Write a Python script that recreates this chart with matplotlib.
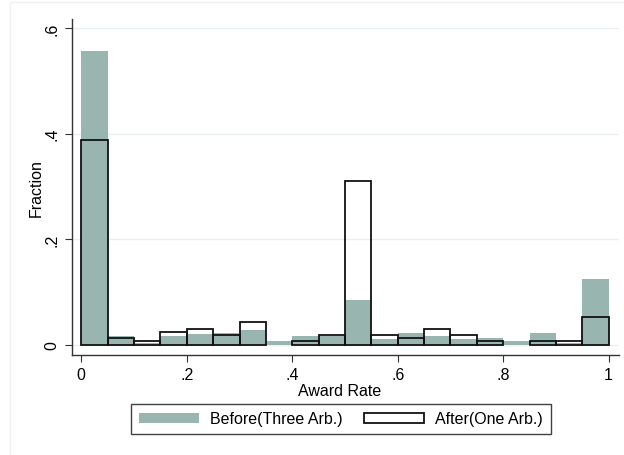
import matplotlib
matplotlib.use("Agg")
import matplotlib.pyplot as plt
import numpy as np
from matplotlib.patches import Rectangle

plt.rcParams['font.family'] = ['Liberation Sans', 'DejaVu Sans']

# award-rate histogram, 20 bins of width .05
bin_edges = np.linspace(0, 1, 21)
before_frac = [0.556, 0.0165, 0.004, 0.0165, 0.0208, 0.0222, 0.0273, 0.007, 0.0165, 0.016,
               0.084, 0.0114, 0.0222, 0.0165, 0.0114, 0.012, 0.007, 0.0222, 0.004, 0.125]
after_frac = [0.387, 0.012, 0.0064, 0.0246, 0.0297, 0.0178, 0.0424, 0.0, 0.0064, 0.0178,
              0.3095, 0.0178, 0.0121, 0.0303, 0.0178, 0.0064, 0.0, 0.0064, 0.0064, 0.053]
xticks = [0, 0.2, 0.4, 0.6, 0.8, 1]
xtick_labels = ['0', '.2', '.4', '.6', '.8', '1']
yticks = [0, 0.2, 0.4, 0.6]
ytick_labels = ['0', '.2', '.4', '.6']

fill_col = '#98b6af'
grid_col = '#eaf0f1'
fs = 11.5

fig = plt.figure(figsize=(6.24, 4.56), dpi=100)
# faint outer graph-region border
fig.patches.append(Rectangle((10 / 624, -0.1), 1.2, 1 - 3 / 456 + 0.1, transform=fig.transFigure,
                             fill=False, edgecolor='#eef2f2', linewidth=1))

ax = fig.add_axes([71.7 / 624, 1 - 355.7 / 456, 547 / 624, 335.7 / 456])

left = bin_edges[:-1]
w = bin_edges[1] - bin_edges[0]
before = np.array(before_frac)
after = np.array(after_frac)

ax.bar(left, before, width=w, align='edge', color=fill_col, linewidth=0,
       label='Before(Three Arb.)', zorder=2)
m = after > 0
ax.bar(left[m], after[m], width=w, align='edge', facecolor='none', edgecolor='#111111',
       linewidth=1.3, label='After(One Arb.)', zorder=3)

ax.set_xlim(-0.0182, 1.019)
ax.set_ylim(-0.0189, 0.617)
ax.set_xticks(xticks)
ax.set_xticklabels(xtick_labels, fontsize=fs)
ax.set_yticks(yticks)
ax.set_yticklabels(ytick_labels, fontsize=fs, rotation=90, va='center')
ax.tick_params(direction='out', length=5, width=0.8, color='#333333', pad=4)
ax.yaxis.grid(True, color=grid_col, linewidth=1, zorder=0)
ax.set_axisbelow(True)
for s in ['top', 'right']:
    ax.spines[s].set_visible(False)
for s in ['left', 'bottom']:
    ax.spines[s].set_color('#333333')
    ax.spines[s].set_linewidth(1)

ax.set_xlabel('Award Rate', fontsize=fs)
ax.set_ylabel('Fraction', fontsize=fs)
ax.xaxis.set_label_coords(0.49, -0.084)
ax.yaxis.set_label_coords(-0.052, 0.5)

fig.legend(loc='center', bbox_to_anchor=(341 / 624, 1 - 420 / 456), ncol=2, fontsize=fs,
           frameon=True, fancybox=False, edgecolor='#111111', handlelength=3.75,
           handleheight=0.65, columnspacing=1.3, borderpad=0.5, handletextpad=0.7)

fig.savefig('out.png', dpi=100)
